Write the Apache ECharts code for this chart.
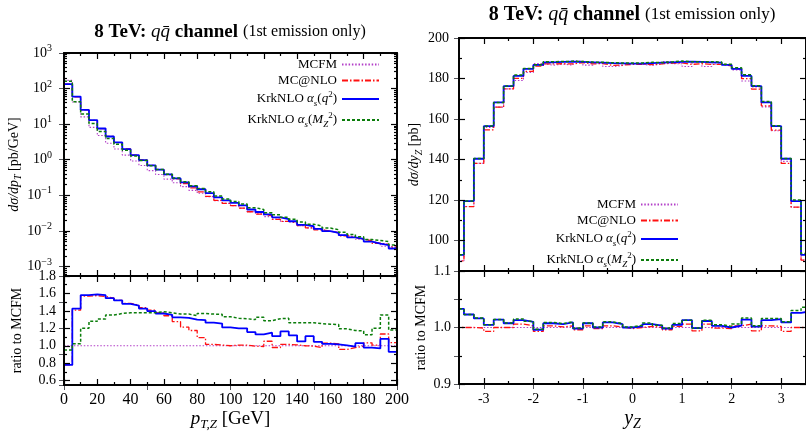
<!DOCTYPE html>
<html><head><meta charset="utf-8">
<script src="https://cdn.jsdelivr.net/npm/echarts@6/dist/echarts.min.js"></script>
<style>html,body{margin:0;padding:0;background:#fff}#c{width:806px;height:432px}</style>
</head><body><div id="c"></div>
<script>
// ---------------- data: pT_Z panel (5 GeV bins) ----------------
const ptEdges = [0,5,10,15,20,25,30,35,40,45,50,55,60,65,70,75,80,85,90,95,100,105,110,115,120,125,130,135,140,145,150,155,160,165,170,175,180,185,190,195,200];
const mcfmPt  = [170,41.8,16.0,8.1,4.78,2.92,2.0,1.35,0.925,0.687,0.494,0.383,0.286,0.226,0.176,0.138,0.114,0.092,0.0702,0.0595,0.0508,0.0433,0.0346,0.030,0.0252,0.0216,0.0183,0.0167,0.0141,0.0122,0.0109,0.0096,0.0087,0.0076,0.0067,0.0058,0.0051,0.0045,0.0037,0.0034];
const mcnloPt = [133,58.9,25.1,12.8,7.48,4.51,3.04,2.01,1.355,0.988,0.696,0.528,0.384,0.289,0.213,0.162,0.125,0.0934,0.0717,0.0595,0.0512,0.0436,0.0345,0.0297,0.0265,0.0212,0.0186,0.0169,0.0141,0.0122,0.0107,0.0099,0.0089,0.0073,0.0066,0.0058,0.0053,0.0045,0.0042,0.0035];
const krkQPt  = [133,59.6,25.2,12.9,7.55,4.5,3.06,1.99,1.35,0.98,0.69,0.525,0.388,0.30,0.232,0.179,0.148,0.116,0.088,0.072,0.061,0.052,0.040,0.034,0.029,0.024,0.0213,0.0187,0.0148,0.0135,0.0114,0.0098,0.0088,0.0076,0.0066,0.0060,0.0050,0.0044,0.0040,0.0032];
const krkMPt  = [161.5,42.7,19.2,10.4,6.25,3.95,2.74,1.86,1.275,0.947,0.682,0.532,0.394,0.308,0.240,0.185,0.156,0.125,0.0955,0.0793,0.0668,0.0567,0.045,0.0398,0.0325,0.0283,0.0241,0.0211,0.0178,0.0154,0.0137,0.0120,0.0108,0.0091,0.0079,0.0068,0.0057,0.0054,0.0050,0.0040];
const ratioMcfmPt  = [1,1,1,1,1,1,1,1,1,1,1,1,1,1,1,1,1,1,1,1,1,1,1,1,1,1,1,1,1,1,1,1,1,1,1,1,1,1,1,1];
const ratioMcnloPt = [0.78,1.408,1.57,1.575,1.565,1.546,1.52,1.487,1.465,1.438,1.408,1.378,1.344,1.277,1.213,1.175,1.093,1.015,1.008,1.0,1.007,1.007,0.996,0.99,1.052,0.98,1.015,1.01,1.0,0.996,0.98,1.03,1.022,0.958,0.978,0.996,1.034,1.007,1.135,1.037];
const ratioKrkQPt  = [0.78,1.427,1.58,1.59,1.58,1.546,1.52,1.48,1.46,1.427,1.397,1.37,1.355,1.326,1.32,1.30,1.295,1.265,1.254,1.21,1.20,1.20,1.157,1.13,1.15,1.11,1.164,1.12,1.05,1.11,1.045,1.022,1.015,1.005,0.99,1.03,0.978,0.97,1.08,0.93];
const ratioKrkMPt  = [0.95,1.022,1.20,1.28,1.307,1.352,1.37,1.378,1.378,1.378,1.38,1.39,1.378,1.363,1.363,1.344,1.37,1.363,1.36,1.333,1.315,1.31,1.30,1.326,1.288,1.31,1.315,1.263,1.263,1.265,1.254,1.247,1.243,1.194,1.175,1.17,1.127,1.20,1.352,1.18];

// ---------------- data: y_Z panel (0.2 bins) ----------------
const yEdges = [-3.6,-3.4,-3.2,-3.0,-2.8,-2.6,-2.4,-2.2,-2.0,-1.8,-1.6,-1.4,-1.2,-1.0,-0.8,-0.6,-0.4,-0.2,0,0.2,0.4,0.6,0.8,1.0,1.2,1.4,1.6,1.8,2.0,2.2,2.4,2.6,2.8,3.0,3.2,3.4,3.6];
const mcfmY  = [90.0,116.8,138.2,155.8,165.9,174.9,179.0,183.0,187.4,186.6,187.1,186.6,188.6,186.6,187.8,185.9,186.4,187.4,187.0,186.5,187.2,188.4,187.3,185.9,188.4,185.9,187.2,186.7,184.2,178.8,175.9,166.0,154.2,139.1,116.5,90.4];
const mcnloY = [90.0,116.8,138.1,154.7,165.9,174.9,180.1,183.5,186.1,187.2,187.3,187.2,187.8,187.2,187.4,186.5,186.6,187.0,187.0,186.9,187.2,187.6,187.7,187.0,187.3,187.0,187.0,186.3,184.8,179.9,174.8,166.5,154.5,138.1,116.5,90.4];
const krkQY  = [93,119.5,140.4,156.5,168.2,176.2,181.3,184.8,186.7,188.0,188.2,188.3,188.2,188.0,187.8,187.6,187.5,187.4,187.4,187.6,187.8,188.0,188.2,188.3,188.2,188.0,187.8,186.7,184.8,181.3,176.2,168.2,156.5,140.4,119.5,93];
const krkMY  = [93.0,119.5,140.5,156.6,168.2,176.3,181.7,185.0,186.8,188.3,188.4,188.5,188.4,188.1,188.0,187.8,187.7,187.6,187.7,188.0,187.9,188.2,188.6,188.3,188.2,188.3,188.1,187.1,185.3,181.8,176.4,168.7,156.7,140.5,120.0,93.6];
const ratioMcfmY  = [1,1,1,1,1,1,1,1,1,1,1,1,1,1,1,1,1,1,1,1,1,1,1,1,1,1,1,1,1,1,1,1,1,1,1,1];
const ratioMcnloY = [1.0,1.0,0.999,0.993,1.0,1.0,1.006,1.003,0.993,1.003,1.001,1.003,0.996,1.003,0.998,1.003,1.001,0.998,1.0,1.002,1.0,0.996,1.002,1.006,0.994,1.006,0.999,0.998,1.003,1.006,0.994,1.003,1.002,0.993,1.0,1.0];
const ratioKrkQY  = [1.033,1.023,1.016,1.0046,1.014,1.0075,1.013,1.01,0.996,1.0075,1.006,1.009,0.998,1.0075,1.0,1.009,1.006,1.0,1.002,1.006,1.0034,0.998,1.0046,1.013,0.999,1.0115,1.003,1.0,1.0034,1.014,1.0017,1.013,1.015,1.009,1.026,1.029];
const ratioKrkMY  = [1.033,1.023,1.017,1.005,1.014,1.008,1.015,1.011,0.997,1.009,1.007,1.01,0.999,1.008,1.001,1.010,1.007,1.001,1.004,1.008,1.004,0.999,1.007,1.013,0.999,1.013,1.005,1.002,1.006,1.017,1.003,1.016,1.016,1.01,1.03,1.036];

// ---------------- ticks ----------------
const ptTicks      = [0,20,40,60,80,100,120,140,160,180,200];
const ptMinor      = [10,30,50,70,90,110,130,150,170,190];
const yzTicks      = [-3,-2,-1,0,1,2,3];
const yzMinor      = [-2.5,-1.5,-0.5,0.5,1.5,2.5];
const ratioPtTicks = [0.6,0.8,1.0,1.2,1.4,1.6,1.8];
const ratioPtMinor = [0.7,0.9,1.1,1.3,1.5,1.7];
const dYTicks      = [100,120,140,160,180,200];
const dYMinor      = [90,110,130,150,170,190];
const ratioYTicks  = [0.9,1.0,1.1];
const ratioYMinor  = [0.95,1.05];
const logDecades   = [-3,-2,-1,0,1,2,3];
const logMin = 5.4e-4, logMax = 1000;

const names = ['MCFM','MC@NLO','KrkNLO αs(q²)','KrkNLO αs(MZ²)'];

// ---------------- styling ----------------
const SERIF = '"Liberation Serif","DejaVu Serif",serif';
const STY = {
  'MCFM':           {color:'#b23ec8', width:1.1, type:[1.5,1.8], z:3},
  'MC@NLO':         {color:'#ff1010', width:1.3, type:[6,2,1.5,2], z:4},
  'KrkNLO αs(q²)':  {color:'#0000ff', width:1.8, type:'solid', z:5},
  'KrkNLO αs(MZ²)': {color:'#0b7d0b', width:1.5, type:[3,2], z:6}
};
function rich(size){
  const s = Math.round(size*0.7);
  return {
    n:{fontFamily:SERIF,fontWeight:'normal',fontSize:size,lineHeight:size+5,color:'#000'},
    i:{fontFamily:SERIF,fontWeight:'normal',fontStyle:'italic',fontSize:size,lineHeight:size+5,color:'#000'},
    sub:{fontFamily:SERIF,fontWeight:'normal',fontStyle:'italic',fontSize:s,lineHeight:s,verticalAlign:'bottom',color:'#000'},
    sup:{fontFamily:SERIF,fontWeight:'normal',fontSize:s,lineHeight:s,verticalAlign:'top',color:'#000'}
  };
}

const grids = [
  {left:64, top:53, width:333, height:223},
  {left:64, top:276, width:333, height:111},
  {left:459, top:38, width:347, height:233},
  {left:459, top:271, width:347, height:116}
].map(g => Object.assign(g, {show:true, borderColor:'#000', borderWidth:1.5, backgroundColor:'rgba(0,0,0,0)'}));

const xAxes = [], yAxes = [];
// tick-only axes (mirrored on both sides, major + minor)
function deco(list, dim, grid, min, max, major, minor, majLen, minLen){
  const sides = dim === 'x' ? ['bottom','top'] : ['left','right'];
  sides.forEach(pos => {
    [[major, majLen],[minor, minLen]].forEach(([vals,len]) => {
      list.push({type:'value', gridIndex:grid, position:pos, min:min, max:max, offset:0, z:10,
        axisLine:{show:true, onZero:false, lineStyle:{color:'#000', width:1.5}},
        splitLine:{show:false}, axisLabel:{show:false},
        axisTick:{show:true, inside:true, length:len, customValues:vals.slice(), lineStyle:{color:'#000', width:1.2}}});
    });
  });
}
function primary(list, ax){
  list.push(Object.assign({axisLine:{show:false, onZero:false}, splitLine:{show:false}}, ax));
  return list.length - 1;
}

// x axes
const xi0 = primary(xAxes, {type:'value', gridIndex:0, position:'bottom', min:0, max:200, axisLabel:{show:false}});
deco(xAxes,'x',0,0,200,ptTicks,ptMinor,6,3);
const xi1 = primary(xAxes, {type:'value', gridIndex:1, position:'bottom', min:0, max:200,
  axisLabel:{show:true, customValues:ptTicks.slice(), margin:7, fontFamily:SERIF, fontSize:16, color:'#000'},
  name:'{i|p}{sub|T,Z}{n| [GeV]}', nameLocation:'middle', nameGap:22,
  nameTextStyle:{rich:rich(19)}});
deco(xAxes,'x',1,0,200,ptTicks,ptMinor,6,3);
const xi2 = primary(xAxes, {type:'value', gridIndex:2, position:'bottom', min:-3.5, max:3.5, axisLabel:{show:false}});
deco(xAxes,'x',2,-3.5,3.5,yzTicks,yzMinor,6,3);
const xi3 = primary(xAxes, {type:'value', gridIndex:3, position:'bottom', min:-3.5, max:3.5,
  axisLabel:{show:true, customValues:yzTicks.slice(), margin:8, fontFamily:SERIF, fontSize:14, color:'#000'},
  name:'{i|y}{sub|Z}', nameLocation:'middle', nameGap:22, nameTextStyle:{rich:rich(20)}});
deco(xAxes,'x',3,-3.5,3.5,yzTicks,yzMinor,6,3);

// y axes
const logMinor = [];
for (let e = -4; e <= 2; e++) for (let k = 2; k <= 9; k++) {
  const v = Math.log10(k) + e; if (v > Math.log10(logMin) && v < 3) logMinor.push(v);
}
const yi0 = primary(yAxes, {type:'log', gridIndex:0, position:'left', min:logMin, max:logMax, logBase:10,
  axisLabel:{show:true, showMinLabel:false, margin:12, fontFamily:SERIF, fontSize:14, color:'#000',
    formatter: v => { const e = Math.round(Math.log10(v)); return '{n|10}{sup|' + (e < 0 ? '−' + (-e) : e) + '}'; },
    rich:rich(14)},
  name:'{i|dσ/dp}{sub|T}{n| [pb/GeV]}', nameLocation:'middle', nameRotate:90, nameGap:40,
  nameTextStyle:{rich:rich(14)}});
deco(yAxes,'y',0,Math.log10(logMin),3,logDecades,logMinor,6,3);
const yi1 = primary(yAxes, {type:'value', gridIndex:1, position:'left', min:0.55, max:1.8,
  axisLabel:{show:true, customValues:ratioPtTicks.slice(), margin:8, fontFamily:SERIF, fontSize:14, color:'#000', formatter: v => v.toFixed(1)},
  name:'ratio to MCFM', nameLocation:'middle', nameRotate:90, nameGap:40,
  nameTextStyle:{fontFamily:SERIF, fontSize:14, color:'#000'}});
deco(yAxes,'y',1,0.55,1.8,ratioPtTicks,ratioPtMinor,6,3);
const yi2 = primary(yAxes, {type:'value', gridIndex:2, position:'left', min:85, max:200,
  axisLabel:{show:true, customValues:dYTicks.slice(), margin:10, fontFamily:SERIF, fontSize:14, color:'#000'},
  name:'{i|dσ/dy}{sub|Z}{n| [pb]}', nameLocation:'middle', nameRotate:90, nameGap:26,
  nameTextStyle:{rich:rich(14)}});
deco(yAxes,'y',2,85,200,dYTicks,dYMinor,6,3);
const yi3 = primary(yAxes, {type:'value', gridIndex:3, position:'left', min:0.9, max:1.1,
  axisLabel:{show:true, customValues:ratioYTicks.slice(), margin:8, fontFamily:SERIF, fontSize:14, color:'#000', formatter: v => v.toFixed(1)},
  name:'ratio to MCFM', nameLocation:'middle', nameRotate:90, nameGap:31,
  nameTextStyle:{fontFamily:SERIF, fontSize:14, color:'#000'}});
deco(yAxes,'y',3,0.9,1.1,ratioYTicks,ratioYMinor,6,3);

// series
function histo(name, edges, vals, xi, yi){
  const st = STY[name];
  const data = edges.map((e, i) => [e, vals[Math.min(i, vals.length - 1)]]);
  return {type:'line', name, step:'end', data, xAxisIndex:xi, yAxisIndex:yi,
    symbol:'none', showSymbol:false, silent:true, clip:true, z:st.z,
    color:st.color, itemStyle:{color:st.color},
    lineStyle:{color:st.color, width:st.width, type:st.type}};
}
const series = [
  histo(names[0], ptEdges, mcfmPt, xi0, yi0),
  histo(names[1], ptEdges, mcnloPt, xi0, yi0),
  histo(names[2], ptEdges, krkQPt, xi0, yi0),
  histo(names[3], ptEdges, krkMPt, xi0, yi0),
  histo(names[0], ptEdges, ratioMcfmPt, xi1, yi1),
  histo(names[1], ptEdges, ratioMcnloPt, xi1, yi1),
  histo(names[2], ptEdges, ratioKrkQPt, xi1, yi1),
  histo(names[3], ptEdges, ratioKrkMPt, xi1, yi1),
  histo(names[0], yEdges, mcfmY, xi2, yi2),
  histo(names[1], yEdges, mcnloY, xi2, yi2),
  histo(names[2], yEdges, krkQY, xi2, yi2),
  histo(names[3], yEdges, krkMY, xi2, yi2),
  histo(names[0], yEdges, ratioMcfmY, xi3, yi3),
  histo(names[1], yEdges, ratioMcnloY, xi3, yi3),
  histo(names[2], yEdges, ratioKrkQY, xi3, yi3),
  histo(names[3], yEdges, ratioKrkMY, xi3, yi3)
];

const legendText = {
  'MCFM': '{n|MCFM}',
  'MC@NLO': '{n|MC@NLO}',
  'KrkNLO αs(q²)': '{n|KrkNLO }{i|α}{sub|s}{n|(}{i|q}{sup|2}{n|)}',
  'KrkNLO αs(MZ²)': '{n|KrkNLO }{i|α}{sub|s}{n|(}{i|M}{sub|Z}{sup|2}{n|)}'
};
function legendCfg(right, top){
  return {data:names, orient:'vertical', align:'right', right, top, padding:0,
    itemWidth:37, itemHeight:14, itemGap:3, selectedMode:false,
    itemStyle:{color:'rgba(0,0,0,0)', borderColor:'rgba(0,0,0,0)', borderWidth:0},
    formatter: n => legendText[n],
    textStyle:{fontFamily:SERIF, fontSize:13, color:'#000', rich:rich(13)}};
}

function titleRich(bs, ns){
  return {
    b:{fontFamily:SERIF, fontWeight:'bold', fontSize:bs, lineHeight:22, color:'#000'},
    i:{fontFamily:SERIF, fontWeight:'normal', fontStyle:'italic', fontSize:bs, lineHeight:22, color:'#000'},
    n:{fontFamily:SERIF, fontWeight:'normal', fontSize:ns, lineHeight:22, color:'#000'}
  };
}
const titleText = '{b|8 TeV: }{i|q}{i|q̄}{b| channel} {n|(1st emission only)}';

const chart = echarts.init(document.getElementById('c'));
chart.setOption({
  animation:false,
  title:[
    {text:titleText, left:230, top:21, textAlign:'center', padding:0, textStyle:{fontWeight:'normal', rich:titleRich(19,16)}},
    {text:titleText, left:632, top:4, textAlign:'center', padding:0, textStyle:{fontWeight:'normal', rich:titleRich(20,17)}}
  ],
  legend:[legendCfg(426, 58), legendCfg(127, 198)],
  grid:grids,
  xAxis:xAxes,
  yAxis:yAxes,
  series
});
</script></body></html>
